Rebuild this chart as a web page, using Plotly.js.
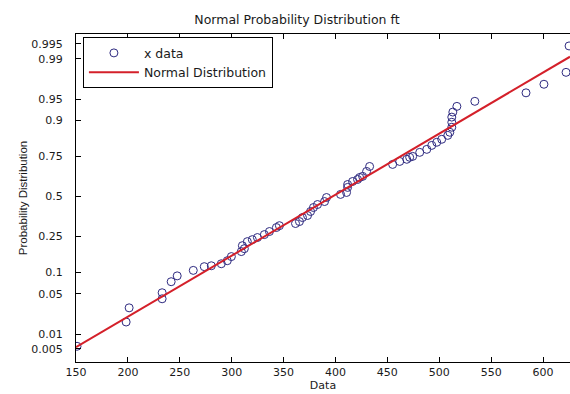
<!DOCTYPE html>
<html>
<head>
<meta charset="utf-8">
<script src="https://cdn.plot.ly/plotly-3.0.1.min.js"></script>
<style>html,body{margin:0;padding:0;background:#fff;}#chart{width:570px;height:394px;}</style>
</head>
<body>
<div id="chart"></div>
<script>
// Sample data (x) and their plotting probabilities
var xData = [151.0, 198.3, 201.2, 233.0, 233.0, 241.7, 247.5, 263.0, 273.6, 280.4,
  290.0, 295.8, 299.7, 309.3, 310.3, 312.2, 315.1, 319.9, 324.8, 331.5,
  336.4, 343.1, 346.0, 361.5, 365.3, 368.2, 373.1, 376.0, 378.8, 382.7,
  389.5, 391.4, 404.9, 410.7, 411.7, 411.7, 416.5, 421.3, 423.3, 426.2,
  430.0, 432.9, 455.1, 461.9, 468.7, 471.5, 474.4, 481.2, 488.0, 492.8,
  497.6, 502.4, 508.2, 510.2, 512.1, 512.1, 512.1, 513.1, 517.0, 534.3,
  583.6, 600.9, 622.2, 625.1];
var pData = [0.0057, 0.017, 0.030, 0.042, 0.052, 0.075, 0.090, 0.106, 0.118, 0.121,
  0.128, 0.139, 0.155, 0.176, 0.203, 0.189, 0.223, 0.233, 0.244, 0.260,
  0.277, 0.300, 0.311, 0.324, 0.336, 0.361, 0.374, 0.400, 0.426, 0.446,
  0.466, 0.493, 0.514, 0.527, 0.561, 0.580, 0.600, 0.613, 0.626, 0.633,
  0.664, 0.694, 0.706, 0.723, 0.735, 0.746, 0.751, 0.772, 0.787, 0.806,
  0.820, 0.833, 0.849, 0.861, 0.879, 0.895, 0.910, 0.923, 0.936, 0.946,
  0.960, 0.971, 0.982, 0.9945];

// Fitted normal distribution
var fitMean = 397;
var fitStd = 97;
var lineX = [150, 626];

// Axis ticks
var xTicks = [150, 200, 250, 300, 350, 400, 450, 500, 550, 600];
var yTickProbs = [0.005, 0.01, 0.05, 0.1, 0.25, 0.5, 0.75, 0.9, 0.95, 0.99, 0.995];
var yTickLabels = ['0.005', '0.01', '0.05', '0.1', '0.25', '0.5', '0.75', '0.9', '0.95', '0.99', '0.995'];
var yProbRange = [0.00259, 0.99697];

// Inverse standard normal CDF (Acklam)
function norminv(p) {
  var a = [-3.969683028665376e+01, 2.209460984245205e+02, -2.759285104469687e+02, 1.383577518672690e+02, -3.066479806614716e+01, 2.506628277459239e+00];
  var b = [-5.447609879822406e+01, 1.615858368580409e+02, -1.556989798598866e+02, 6.680131188771972e+01, -1.328068155288572e+01];
  var c = [-7.784894002430293e-03, -3.223964580411365e-01, -2.400758277161838e+00, -2.549732539343734e+00, 4.374664141464968e+00, 2.938163982698783e+00];
  var d = [7.784695709041462e-03, 3.224671290700398e-01, 2.445134137142996e+00, 3.754408661907416e+00];
  var pl = 0.02425, q, r;
  if (p < pl) {
    q = Math.sqrt(-2 * Math.log(p));
    return (((((c[0]*q+c[1])*q+c[2])*q+c[3])*q+c[4])*q+c[5]) / ((((d[0]*q+d[1])*q+d[2])*q+d[3])*q+1);
  } else if (p <= 1 - pl) {
    q = p - 0.5; r = q*q;
    return (((((a[0]*r+a[1])*r+a[2])*r+a[3])*r+a[4])*r+a[5])*q / (((((b[0]*r+b[1])*r+b[2])*r+b[3])*r+b[4])*r+1);
  } else {
    q = Math.sqrt(-2 * Math.log(1 - p));
    return -(((((c[0]*q+c[1])*q+c[2])*q+c[3])*q+c[4])*q+c[5]) / ((((d[0]*q+d[1])*q+d[2])*q+d[3])*q+1);
  }
}

var zData = pData.map(norminv);
var lineZ = lineX.map(function (x) { return (x - fitMean) / fitStd; });

var font = 'DejaVu Sans, Liberation Sans, sans-serif';
var font2 = 'Liberation Sans, Arial, sans-serif';
var ink = '#1a1a1a';

var traces = [
  {
    x: xData, y: zData, type: 'scatter', mode: 'markers', name: 'x data',
    marker: { symbol: 'circle-open', size: 8, color: '#2e2a80', line: { width: 1, color: '#2e2a80' } },
    hoverinfo: 'skip'
  },
  {
    x: lineX, y: lineZ, type: 'scatter', mode: 'lines', name: 'Normal Distribution',
    line: { color: '#d4202a', width: 2 },
    hoverinfo: 'skip'
  }
];

var layout = {
  width: 570, height: 394,
  margin: { l: 76, r: 0, t: 34, b: 32 },
  paper_bgcolor: '#fff', plot_bgcolor: '#fff',
  font: { family: font, size: 11, color: ink },
  title: { text: 'Normal Probability Distribution ft', font: { family: font, size: 12.5, color: ink },
           x: 0.521, xanchor: 'center', xref: 'container', y: 0.95, yanchor: 'middle', yref: 'container' },
  xaxis: {
    range: [150, 626], tickvals: xTicks, ticktext: xTicks.map(String),
    ticks: 'inside', ticklen: 5, tickcolor: '#000', showline: true, linecolor: '#000', linewidth: 1,
    mirror: 'ticks', showgrid: false, zeroline: false,
    tickfont: { family: font, size: 11, color: ink },
    title: { text: 'Data', font: { family: font, size: 11, color: ink }, standoff: 3 }
  },
  yaxis: {
    range: [norminv(yProbRange[0]), norminv(yProbRange[1])],
    tickvals: yTickProbs.map(norminv), ticktext: yTickLabels,
    ticks: 'inside', ticklen: 5, tickcolor: '#000', showline: true, linecolor: '#000', linewidth: 1,
    mirror: false, showgrid: false, zeroline: false, ticklabelstandoff: 10,
    tickfont: { family: font, size: 11, color: ink },
    title: { text: 'Probability Distribution', font: { family: font2, size: 11.5, color: ink }, standoff: 1 }
  },
  showlegend: true,
  legend: {
    x: 0.014, y: 0.99, xanchor: 'left', yanchor: 'top',
    bgcolor: '#fff', bordercolor: '#000', borderwidth: 1,
    font: { family: font, size: 12.5, color: ink },
    tracegroupgap: 0, itemwidth: 50
  }
};

Plotly.newPlot('chart', traces, layout, { displayModeBar: false, staticPlot: true });
</script>
</body>
</html>
